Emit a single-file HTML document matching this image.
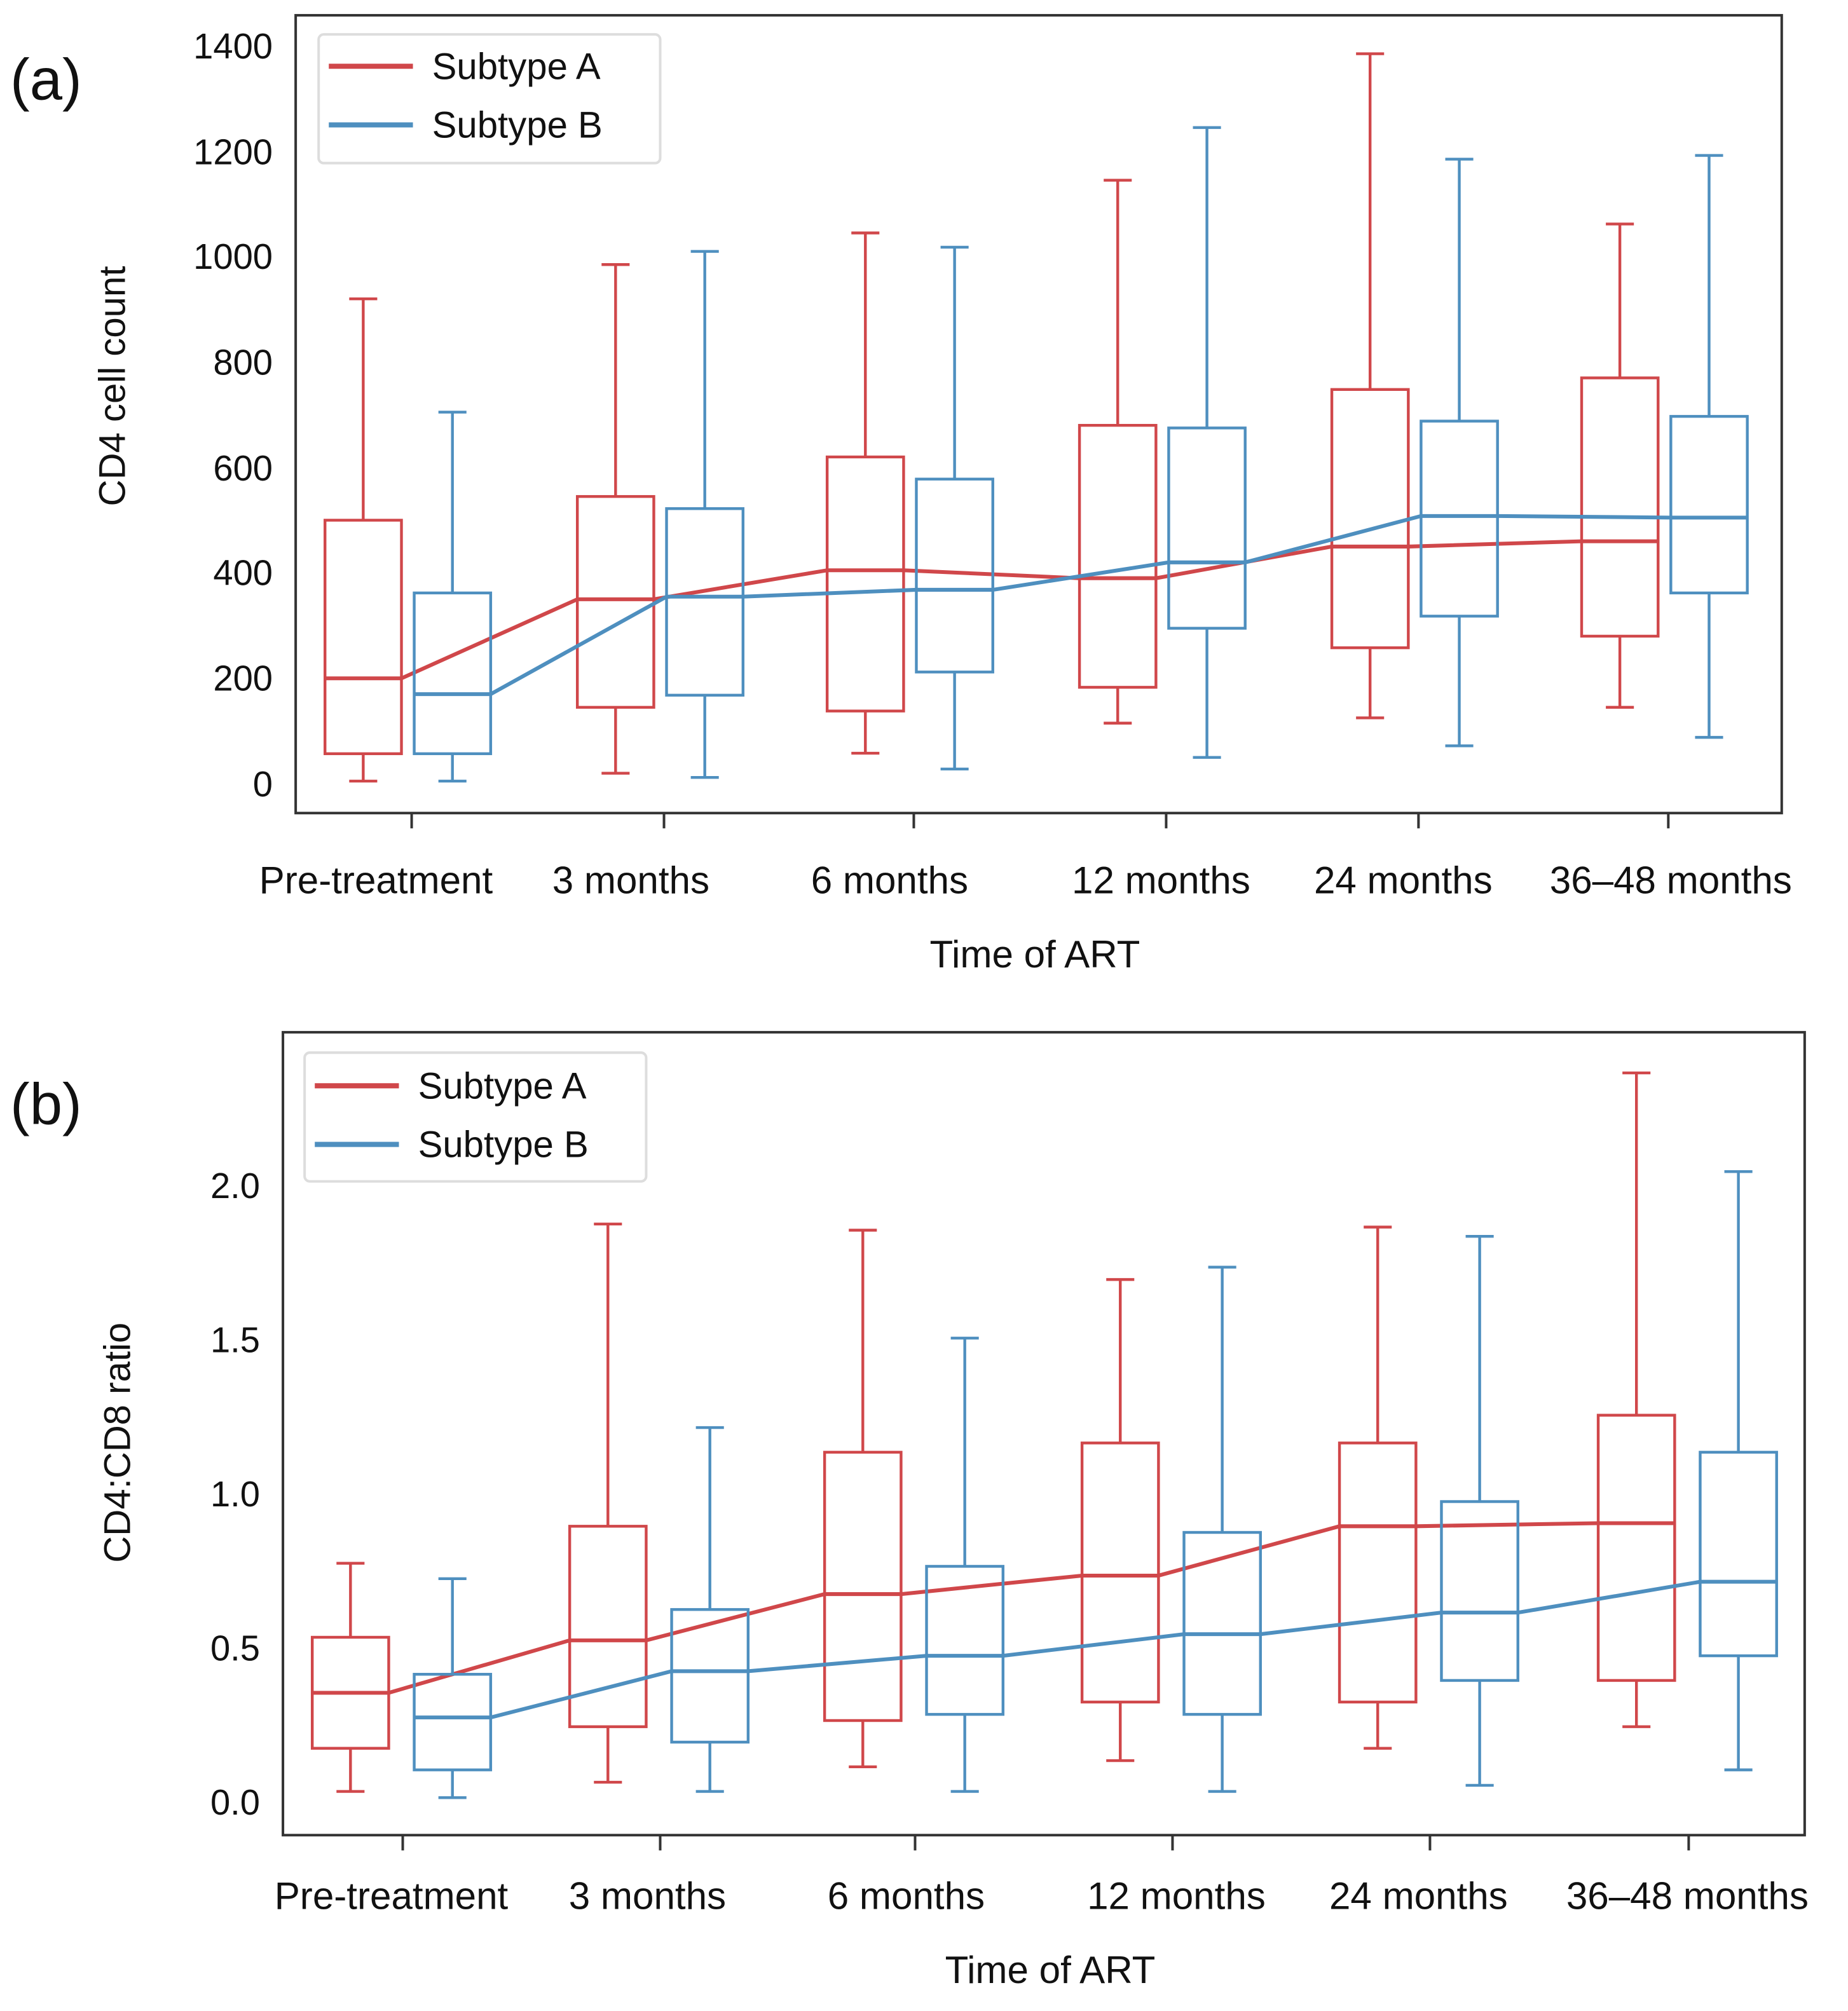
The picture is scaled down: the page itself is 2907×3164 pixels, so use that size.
<!DOCTYPE html>
<html><head><meta charset="utf-8"><style>
html,body{margin:0;padding:0;background:#fff;}
svg{display:block;}
text{font-family:"Liberation Sans","DejaVu Sans",sans-serif;fill:#111;}
</style></head><body>
<svg id="s" width="2907" height="3164" viewBox="0 0 1450 1578" preserveAspectRatio="none" xmlns="http://www.w3.org/2000/svg">
<rect x="0" y="0" width="1450" height="1578" fill="#fff"/>
<!-- Panel a -->
<text x="8" y="78" font-size="46">(a)</text>
<rect x="232" y="12" width="1166" height="626" fill="none" stroke="#333" stroke-width="2"/>
<g font-size="28" text-anchor="end">
<text x="214" y="625">0</text><text x="214" y="542">200</text><text x="214" y="459">400</text>
<text x="214" y="377">600</text><text x="214" y="294">800</text><text x="214" y="211">1000</text>
<text x="214" y="129">1200</text><text x="214" y="46">1400</text>
</g>
<text transform="translate(98,303) rotate(-90)" font-size="29" text-anchor="middle">CD4 cell count</text>
<g font-size="30" text-anchor="middle">
<text x="295" y="701">Pre-treatment</text><text x="495" y="701">3 months</text><text x="698" y="701">6 months</text>
<text x="911" y="701">12 months</text><text x="1101" y="701">24 months</text><text x="1311" y="701">36–48 months</text>
<text x="812" y="759">Time of ART</text>
</g>
<rect x="250" y="27" width="268" height="101" rx="4" fill="#fff" stroke="#ddd" stroke-width="2"/>
<line x1="258" y1="52" x2="324" y2="52" stroke="#d0474a" stroke-width="4"/>
<line x1="258" y1="98" x2="324" y2="98" stroke="#4e8fbf" stroke-width="4"/>
<text x="339" y="62" font-size="29">Subtype A</text><text x="339" y="108" font-size="29">Subtype B</text>
<!-- Panel b -->
<text x="8" y="882" font-size="46">(b)</text>
<rect x="222" y="810" width="1194" height="630" fill="none" stroke="#333" stroke-width="2"/>
<g font-size="28" text-anchor="end">
<text x="204" y="1424">0.0</text><text x="204" y="1303">0.5</text><text x="204" y="1182">1.0</text>
<text x="204" y="1061">1.5</text><text x="204" y="940">2.0</text>
</g>
<text transform="translate(102,1132) rotate(-90)" font-size="29" text-anchor="middle">CD4:CD8 ratio</text>
<g font-size="30" text-anchor="middle">
<text x="307" y="1498">Pre-treatment</text><text x="508" y="1498">3 months</text><text x="711" y="1498">6 months</text>
<text x="923" y="1498">12 months</text><text x="1113" y="1498">24 months</text><text x="1324" y="1498">36–48 months</text>
<text x="824" y="1556">Time of ART</text>
</g>
<rect x="239" y="826" width="268" height="101" rx="4" fill="#fff" stroke="#ddd" stroke-width="2"/>
<line x1="247" y1="852" x2="313" y2="852" stroke="#d0474a" stroke-width="4"/>
<line x1="247" y1="898" x2="313" y2="898" stroke="#4e8fbf" stroke-width="4"/>
<text x="328" y="862" font-size="29">Subtype A</text><text x="328" y="908" font-size="29">Subtype B</text>
<g id="g"></g>
</svg>
<script>
var NS="http://www.w3.org/2000/svg",g=document.getElementById("g");
function el(t,a){var e=document.createElementNS(NS,t);for(var k in a)e.setAttribute(k,a[k]);g.appendChild(e);return e;}
function panel(ticks,yf,axisBottom,red,blue,ro,bo){
 ticks.forEach(function(t){el("line",{x1:t,y1:axisBottom,x2:t,y2:axisBottom+12,stroke:"#333","stroke-width":2});});
 [[red,ro,"#d0474a"],[blue,bo,"#4e8fbf"]].forEach(function(s){
  var pts=[];
  s[0].forEach(function(d,i){
   var c=ticks[i]+s[1],w=30;
   el("line",{x1:c,y1:yf(d[0]),x2:c,y2:yf(d[2]),stroke:s[2],"stroke-width":2.2});
   el("line",{x1:c,y1:yf(d[3]),x2:c,y2:yf(d[1]),stroke:s[2],"stroke-width":2.2});
   el("line",{x1:c-11,y1:yf(d[0]),x2:c+11,y2:yf(d[0]),stroke:s[2],"stroke-width":2.2});
   el("line",{x1:c-11,y1:yf(d[1]),x2:c+11,y2:yf(d[1]),stroke:s[2],"stroke-width":2.2});
   el("rect",{x:c-w,y:yf(d[3]),width:2*w,height:yf(d[2])-yf(d[3]),fill:"none",stroke:s[2],"stroke-width":2.2});
   pts.push((c-w)+","+yf(d[4]));pts.push((c+w)+","+yf(d[4]));
  });
  el("polyline",{points:pts.join(" "),fill:"none",stroke:s[2],"stroke-width":3});
 });
}
panel([323,521,717,915,1113,1309],function(v){return 615-v*0.4136;},638,
 [[5,920,57,500,200],[20,985,145,545,350],[58,1045,138,620,405],[115,1145,183,680,390],[125,1385,258,748,450],[145,1062,280,770,460]],
 [[5,705,57,362,170],[12,1010,168,522,355],[28,1018,212,578,368],[50,1245,295,675,420],[72,1185,318,688,508],[88,1192,362,697,505]],-38,32);
panel([316,518,718,920,1122,1325],function(v){return 1413-v*242;},1440,
 [[0.03,0.77,0.17,0.53,0.35],[0.06,1.87,0.24,0.89,0.52],[0.11,1.85,0.26,1.13,0.67],[0.13,1.69,0.32,1.16,0.73],[0.17,1.86,0.32,1.16,0.89],[0.24,2.36,0.39,1.25,0.90]],
 [[0.01,0.72,0.10,0.41,0.27],[0.03,1.21,0.19,0.62,0.42],[0.03,1.50,0.28,0.76,0.47],[0.03,1.73,0.28,0.87,0.54],[0.05,1.83,0.39,0.97,0.61],[0.10,2.04,0.47,1.13,0.71]],-41,39);
</script>
</body></html>
